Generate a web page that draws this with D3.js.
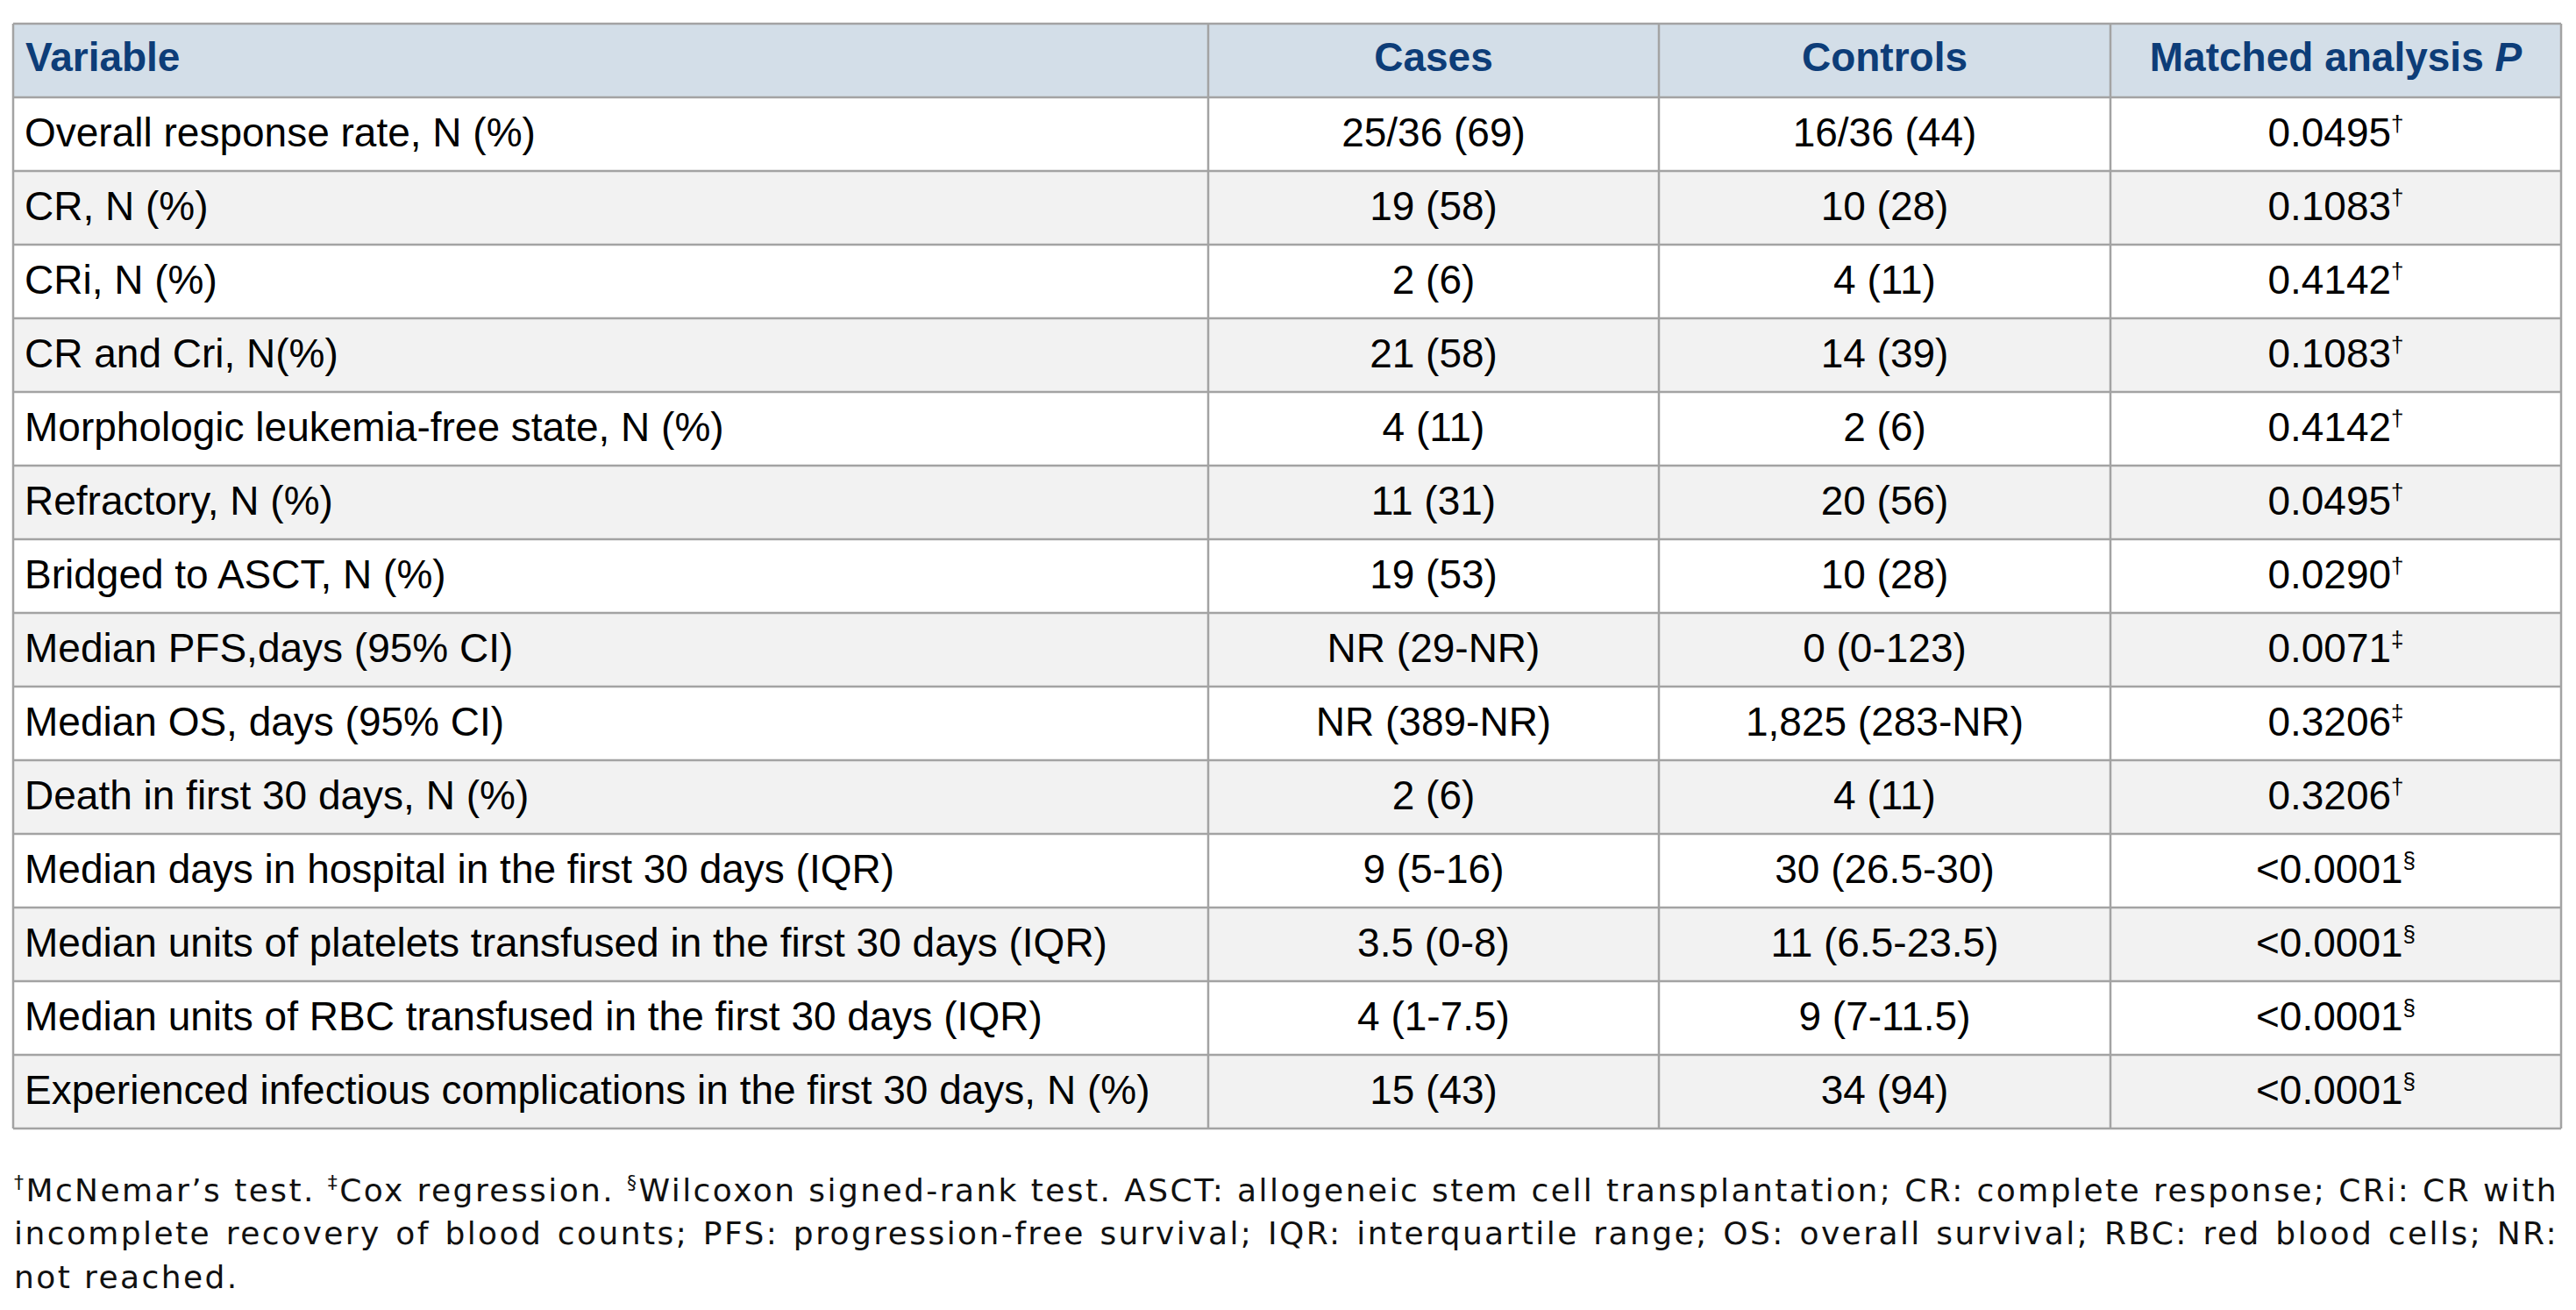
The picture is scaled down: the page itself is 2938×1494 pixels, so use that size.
<!DOCTYPE html>
<html>
<head>
<meta charset="utf-8">
<script src="https://cdn.jsdelivr.net/npm/d3@7"></script>
<style>
  body { margin: 0; background: #fff; }
  svg { display: block; }
</style>
</head>
<body>
<svg></svg>
<script>
const width = 2938;
const height = 1494;

// table content
const headers = ["Variable", "Cases", "Controls", "Matched analysis "];
const variables = [
    "Overall response rate, N (%)",
    "CR, N (%)",
    "CRi, N (%)",
    "CR and Cri, N(%)",
    "Morphologic leukemia-free state, N (%)",
    "Refractory, N (%)",
    "Bridged to ASCT, N (%)",
    "Median PFS,days (95% CI)",
    "Median OS, days (95% CI)",
    "Death in first 30 days, N (%)",
    "Median days in hospital in the first 30 days (IQR)",
    "Median units of platelets transfused in the first 30 days (IQR)",
    "Median units of RBC transfused in the first 30 days (IQR)",
    "Experienced infectious complications in the first 30 days, N (%)"
];
const cases = ["25/36 (69)", "19 (58)", "2 (6)", "21 (58)", "4 (11)", "11 (31)", "19 (53)",
    "NR (29-NR)", "NR (389-NR)", "2 (6)", "9 (5-16)", "3.5 (0-8)", "4 (1-7.5)", "15 (43)"];
const controls = ["16/36 (44)", "10 (28)", "4 (11)", "14 (39)", "2 (6)", "20 (56)", "10 (28)",
    "0 (0-123)", "1,825 (283-NR)", "4 (11)", "30 (26.5-30)", "11 (6.5-23.5)", "9 (7-11.5)", "34 (94)"];
const pValues = ["0.0495", "0.1083", "0.4142", "0.1083", "0.4142", "0.0495", "0.0290",
    "0.0071", "0.3206", "0.3206", "<0.0001", "<0.0001", "<0.0001", "<0.0001"];
const pMarks = ["†", "†", "†", "†", "†", "†", "†", "‡", "‡", "†", "§", "§", "§", "§"];

const footLines = [
    [["†", true], ["McNemar’s test. ", false], ["‡", true], ["Cox regression. ", false], ["§", true],
     ["Wilcoxon signed-rank test. ASCT: allogeneic stem cell transplantation; CR: complete response; CRi: CR with", false]],
    [["incomplete recovery of blood counts; PFS: progression-free survival; IQR: interquartile range; OS: overall survival; RBC: red blood cells; NR:", false]],
    [["not reached.", false]]
];

const svg = d3.select("svg")
    .attr("width", width)
    .attr("height", height);

const tableLeft = 15, tableRight = 2921;
const colEdges = [tableLeft, 1378, 1892, 2407, tableRight];

const y = d3.scaleBand()
    .domain(d3.range(variables.length + 1))
    .range([27, 1287]);

const rows = variables.map((v, i) => ({
    cells: [v, cases[i], controls[i], pValues[i]],
    mark: pMarks[i]
}));

const grid = svg.append("g");

// header background
grid.append("rect")
    .attr("x", tableLeft)
    .attr("y", y(0))
    .attr("width", tableRight - tableLeft)
    .attr("height", y.bandwidth())
    .attr("fill", "#d3dee8");

// row backgrounds
grid.selectAll("rect.row")
    .data(rows)
    .enter().append("rect")
    .attr("class", "row")
    .attr("x", tableLeft)
    .attr("y", (d, i) => y(i + 1))
    .attr("width", tableRight - tableLeft)
    .attr("height", y.bandwidth())
    .attr("fill", (d, i) => i % 2 === 0 ? "#ffffff" : "#f2f2f2");

// horizontal lines
grid.selectAll("line.h")
    .data(d3.range(variables.length + 2))
    .enter().append("line")
    .attr("class", "h")
    .attr("x1", tableLeft)
    .attr("x2", tableRight)
    .attr("y1", i => i <= variables.length ? y(i) : y.range()[1])
    .attr("y2", i => i <= variables.length ? y(i) : y.range()[1])
    .attr("stroke", "#a3a3a3")
    .attr("stroke-width", 2.5);

// vertical lines
grid.selectAll("line.v")
    .data(colEdges)
    .enter().append("line")
    .attr("class", "v")
    .attr("x1", d => d)
    .attr("x2", d => d)
    .attr("y1", y.range()[0])
    .attr("y2", y.range()[1])
    .attr("stroke", "#a3a3a3")
    .attr("stroke-width", 2.5);

const colCenter = j => (colEdges[j] + colEdges[j + 1]) / 2;

// header text
const head = svg.append("g")
    .attr("font-family", "'Liberation Sans', Arial, sans-serif")
    .attr("font-weight", "bold")
    .attr("font-size", 46)
    .attr("fill", "#0d3d78");

head.selectAll("text")
    .data(headers)
    .enter().append("text")
    .attr("x", (d, j) => j === 0 ? 29 : colCenter(j))
    .attr("y", y(0) + y.bandwidth() / 2 + 12)
    .attr("text-anchor", (d, j) => j === 0 ? "start" : "middle")
    .text(d => d)
    .filter((d, j) => j === 3)
    .append("tspan")
    .attr("font-style", "italic")
    .text("P");

// body text
const body = svg.append("g")
    .attr("font-family", "'Liberation Sans', Arial, sans-serif")
    .attr("font-size", 46)
    .attr("fill", "#000");

const rowG = body.selectAll("g")
    .data(rows)
    .enter().append("g")
    .attr("transform", (d, i) => `translate(0,${y(i + 1) + y.bandwidth() / 2 + 14})`);

rowG.each(function (d) {
    const g = d3.select(this);
    d.cells.forEach((c, j) => {
        const t = g.append("text")
            .attr("x", j === 0 ? 28 : colCenter(j))
            .attr("text-anchor", j === 0 ? "start" : "middle")
            .text(c);
        if (j === 3) {
            t.append("tspan")
                .attr("font-size", 26)
                .attr("dy", -17)
                .text(d.mark);
        }
    });
});

// footnote
const foot = svg.append("g")
    .attr("font-family", "'DejaVu Sans', sans-serif")
    .attr("font-size", 36)
    .attr("fill", "#111");

const footBase = [1370, 1419, 1469];
const footWidth = 2902;

const footTexts = footLines.map((parts, k) => {
    const t = foot.append("text")
        .attr("x", 16)
        .attr("y", footBase[k]);
    let raised = false;
    parts.forEach(([s, sup]) => {
        const ts = t.append("tspan").text(s);
        if (sup) {
            ts.attr("font-size", 22).attr("dy", -14);
            raised = true;
        } else if (raised) {
            ts.attr("dy", 14);
            raised = false;
        }
    });
    return t;
});

// letter spacing so the first line fills the width, then justify the second line
const first = footTexts[0];
const chars = footLines[0].map(p => p[0]).join("").length;
const ls = (footWidth - first.node().getComputedTextLength()) / chars;
foot.attr("letter-spacing", ls);
footTexts.forEach((t, k) => {
    if (k === 1) {
        const full = footLines[k].map(p => p[0]).join("");
        const spaces = (full.match(/ /g) || []).length;
        const len = t.node().getComputedTextLength();
        t.attr("word-spacing", (footWidth - len) / spaces);
    }
});
</script>
</body>
</html>
